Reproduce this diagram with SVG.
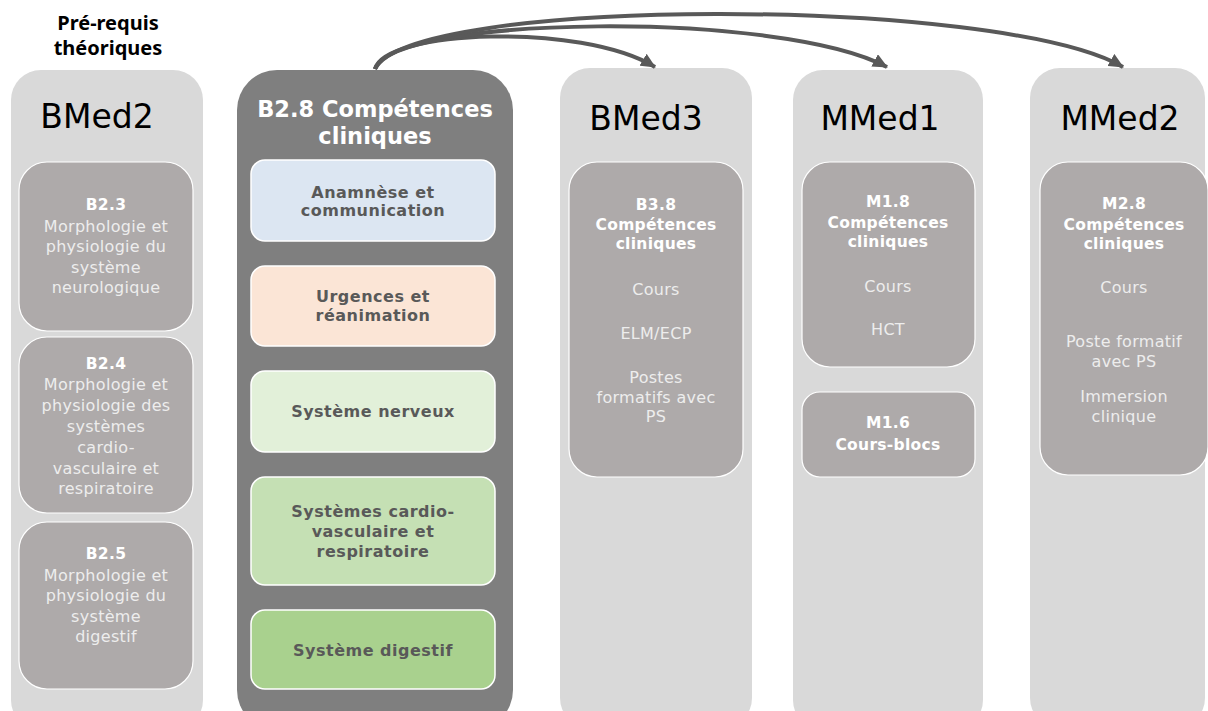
<svg xmlns="http://www.w3.org/2000/svg" width="1208" height="711" viewBox="0 0 1208 711">
<style>
.col{fill:#d9d9d9}
.center{fill:#7f7f7f}
.inner{fill:#aeaaaa;stroke:#ffffff;stroke-width:1.2}
.sub{stroke:#ffffff;stroke-width:1.5}
.title{font-family:"DejaVu Sans",Verdana,sans-serif;font-size:33px;fill:#000000;text-anchor:middle}
.hb{font-family:"DejaVu Sans",Verdana,sans-serif;font-size:15.5px;font-weight:bold;fill:#ffffff;text-anchor:middle;letter-spacing:0.3px}
.ht{font-family:"DejaVu Sans",Verdana,sans-serif;font-size:16px;fill:#ededed;text-anchor:middle;letter-spacing:0.3px}
.st{font-family:"DejaVu Sans",Verdana,sans-serif;font-size:16px;font-weight:bold;fill:#595959;text-anchor:middle;letter-spacing:0.5px}
.ct{font-family:"DejaVu Sans",Verdana,sans-serif;font-size:22.5px;font-weight:bold;fill:#ffffff;text-anchor:middle}
.pre{font-family:"Noto Sans","Open Sans",sans-serif;font-size:20px;font-weight:bold;fill:#000000;text-anchor:middle}
.arr{fill:none;stroke:#595959;stroke-width:4}
</style>
<defs>
<marker id="ah" markerUnits="userSpaceOnUse" markerWidth="16" markerHeight="14" refX="14" refY="7" orient="auto">
<path d="M0,0 L15,7 L0,14 Z" fill="#595959"/>
</marker>
</defs>

<text class="pre" x="108" y="30">Pré-requis</text>
<text class="pre" x="108" y="55">théoriques</text>

<g id="bmed2">
<rect class="col" x="11" y="70" width="192" height="660" rx="30"/>
<text class="title" x="97" y="128">BMed2</text>
</g>
<g id="b23">
<rect class="inner" x="19" y="162" width="174" height="169" rx="28"/>
<text class="hb" x="106" y="210">B2.3</text>
<text class="ht" x="106" y="232">Morphologie et</text>
<text class="ht" x="106" y="252">physiologie du</text>
<text class="ht" x="106" y="273">système</text>
<text class="ht" x="106" y="293">neurologique</text>
</g>
<g id="b24">
<rect class="inner" x="19" y="337" width="174" height="176" rx="28"/>
<text class="hb" x="106" y="369">B2.4</text>
<text class="ht" x="106" y="390">Morphologie et</text>
<text class="ht" x="106" y="411">physiologie des</text>
<text class="ht" x="106" y="432">systèmes</text>
<text class="ht" x="106" y="453">cardio-</text>
<text class="ht" x="106" y="474">vasculaire et</text>
<text class="ht" x="106" y="494">respiratoire</text>
</g>
<g id="b25">
<rect class="inner" x="19" y="522" width="174" height="167" rx="28"/>
<text class="hb" x="106" y="559">B2.5</text>
<text class="ht" x="106" y="581">Morphologie et</text>
<text class="ht" x="106" y="601">physiologie du</text>
<text class="ht" x="106" y="622">système</text>
<text class="ht" x="106" y="642">digestif</text>
</g>

<g id="b28">
<rect class="center" x="237" y="70" width="276" height="660" rx="40"/>
<text class="ct" x="375" y="117">B2.8 Compétences</text>
<text class="ct" x="375" y="144">cliniques</text>
</g>
<g id="anamnese">
<rect class="sub" x="251" y="160" width="244" height="81" rx="14" fill="#dce6f2"/>
<text class="st" x="373" y="198">Anamnèse et</text>
<text class="st" x="373" y="216">communication</text>
</g>
<g id="urgences">
<rect class="sub" x="251" y="266" width="244" height="80" rx="14" fill="#fbe5d6"/>
<text class="st" x="373" y="302">Urgences et</text>
<text class="st" x="373" y="321">réanimation</text>
</g>
<g id="nerveux">
<rect class="sub" x="251" y="371" width="244" height="81" rx="14" fill="#e2f0d9"/>
<text class="st" x="373" y="417">Système nerveux</text>
</g>
<g id="cardio">
<rect class="sub" x="251" y="477" width="244" height="108" rx="14" fill="#c5e0b4"/>
<text class="st" x="373" y="517">Systèmes cardio-</text>
<text class="st" x="373" y="537">vasculaire et</text>
<text class="st" x="373" y="557">respiratoire</text>
</g>
<g id="digestif">
<rect class="sub" x="251" y="610" width="244" height="79" rx="14" fill="#a9d18e"/>
<text class="st" x="373" y="656">Système digestif</text>
</g>

<g id="bmed3">
<rect class="col" x="560" y="68" width="192" height="660" rx="30"/>
<text class="title" x="646" y="130">BMed3</text>
</g>
<g id="b38">
<rect class="inner" x="569" y="162" width="174" height="315" rx="28"/>
<text class="hb" x="656" y="210">B3.8</text>
<text class="hb" x="656" y="230">Compétences</text>
<text class="hb" x="656" y="249">cliniques</text>
<text class="ht" x="656" y="295">Cours</text>
<text class="ht" x="656" y="339">ELM/ECP</text>
<text class="ht" x="656" y="383">Postes</text>
<text class="ht" x="656" y="403">formatifs avec</text>
<text class="ht" x="656" y="422">PS</text>
</g>

<g id="mmed1">
<rect class="col" x="793" y="70" width="190" height="660" rx="30"/>
<text class="title" x="880" y="130">MMed1</text>
</g>
<g id="m18">
<rect class="inner" x="802" y="162" width="173" height="205" rx="28"/>
<text class="hb" x="888" y="207">M1.8</text>
<text class="hb" x="888" y="228">Compétences</text>
<text class="hb" x="888" y="247">cliniques</text>
<text class="ht" x="888" y="292">Cours</text>
<text class="ht" x="888" y="335">HCT</text>
</g>
<g id="m16">
<rect class="inner" x="802" y="392" width="173" height="85" rx="18"/>
<text class="hb" x="888" y="428">M1.6</text>
<text class="hb" x="888" y="450">Cours-blocs</text>
</g>

<g id="mmed2">
<rect class="col" x="1030" y="68" width="175" height="660" rx="30"/>
<text class="title" x="1120" y="130">MMed2</text>
</g>
<g id="m28">
<rect class="inner" x="1040" y="162" width="168" height="313" rx="28"/>
<text class="hb" x="1124" y="209">M2.8</text>
<text class="hb" x="1124" y="230">Compétences</text>
<text class="hb" x="1124" y="249">cliniques</text>
<text class="ht" x="1124" y="293">Cours</text>
<text class="ht" x="1124" y="347">Poste formatif</text>
<text class="ht" x="1124" y="367">avec PS</text>
<text class="ht" x="1124" y="402">Immersion</text>
<text class="ht" x="1124" y="422">clinique</text>
</g>

<g id="connectors">
<path class="arr" d="M375,69 C385,30 580,22 655,67" marker-end="url(#ah)"/>
<path class="arr" d="M375,69 C395,15 780,10 887,67" marker-end="url(#ah)"/>
<path class="arr" d="M375,69 C410,-4 1000,-4 1123,67" marker-end="url(#ah)"/>
</g>
</svg>
